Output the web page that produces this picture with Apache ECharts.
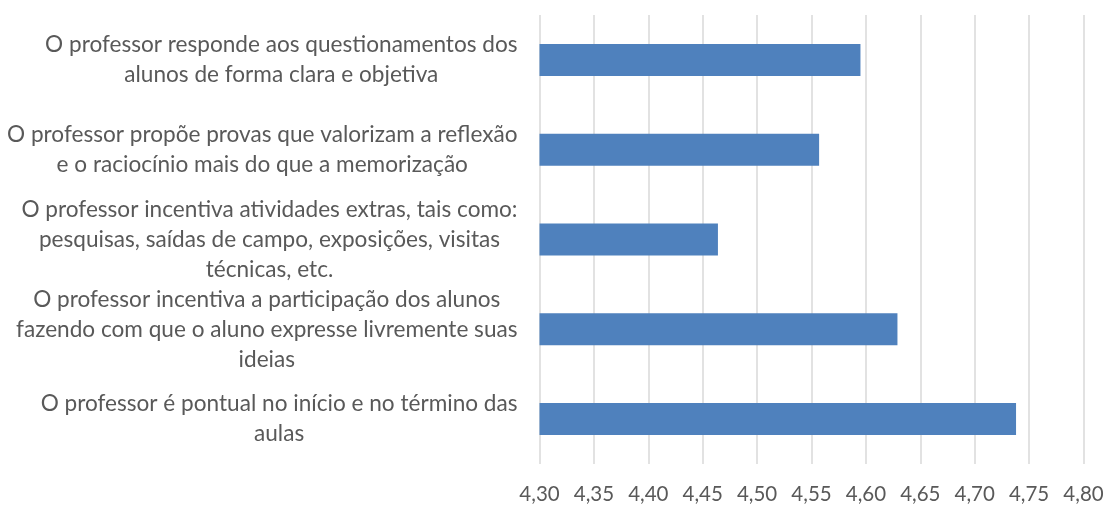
<!DOCTYPE html>
<html lang="pt">
<head>
    <meta charset="UTF-8">
    <title>Avaliação do professor</title>
    <style>
        html, body { margin: 0; padding: 0; background: #ffffff; }
        #main { width: 1107px; height: 507px; }
    </style>
</head>
<body>
    <div id="main"></div>
    <script src="https://cdn.jsdelivr.net/npm/echarts@6/dist/echarts.min.js"></script>
    <script>
        // categorias, de cima para baixo
        var categorias = [
            'O professor responde aos questionamentos dos\nalunos de forma clara e objetiva',
            'O professor propõe provas que valorizam a reflexão\ne o raciocínio mais do que a memorização',
            'O professor incentiva atividades extras, tais como:\npesquisas, saídas de campo, exposições, visitas\ntécnicas, etc.',
            'O professor incentiva a participação dos alunos\nfazendo com que o aluno expresse livremente suas\nideias',
            'O professor é pontual no início e no término das\naulas'
        ];
        var medias = [4.595, 4.557, 4.464, 4.629, 4.738];
        var eixoMin = 4.30;
        var eixoMax = 4.80;
        var passo = 0.05;

        var myChart = echarts.init(document.getElementById('main'));
        var option = {
            animation: false,
            textStyle: { fontFamily: 'Lato' },
            grid: { left: 539.5, right: 23.5, top: 15, bottom: 43 },
            xAxis: {
                type: 'value',
                min: eixoMin,
                max: eixoMax,
                interval: passo,
                axisLine: { show: false },
                axisTick: { show: false },
                splitLine: { show: true, lineStyle: { color: '#d9d9d9', width: 1.5 } },
                axisLabel: {
                    color: '#595959',
                    fontSize: 20.5,
                    fontFamily: 'Lato',
                    margin: 20,
                    formatter: function (v) { return v.toFixed(2).replace('.', ','); }
                }
            },
            yAxis: {
                type: 'category',
                inverse: true,
                data: categorias,
                axisLine: { show: false },
                axisTick: { show: false },
                axisLabel: {
                    margin: 22,
                    formatter: function (v) { return '{c|' + v + '}'; },
                    rich: {
                        c: {
                            align: 'center',
                            color: '#595959',
                            fontSize: 22.6,
                            fontFamily: 'Lato',
                            lineHeight: 30
                        }
                    }
                }
            },
            series: [
                {
                    type: 'bar',
                    data: medias,
                    barWidth: 32,
                    itemStyle: { color: '#4f81bd' }
                }
            ]
        };
        option && myChart.setOption(option);
    </script>
</body>
</html>
